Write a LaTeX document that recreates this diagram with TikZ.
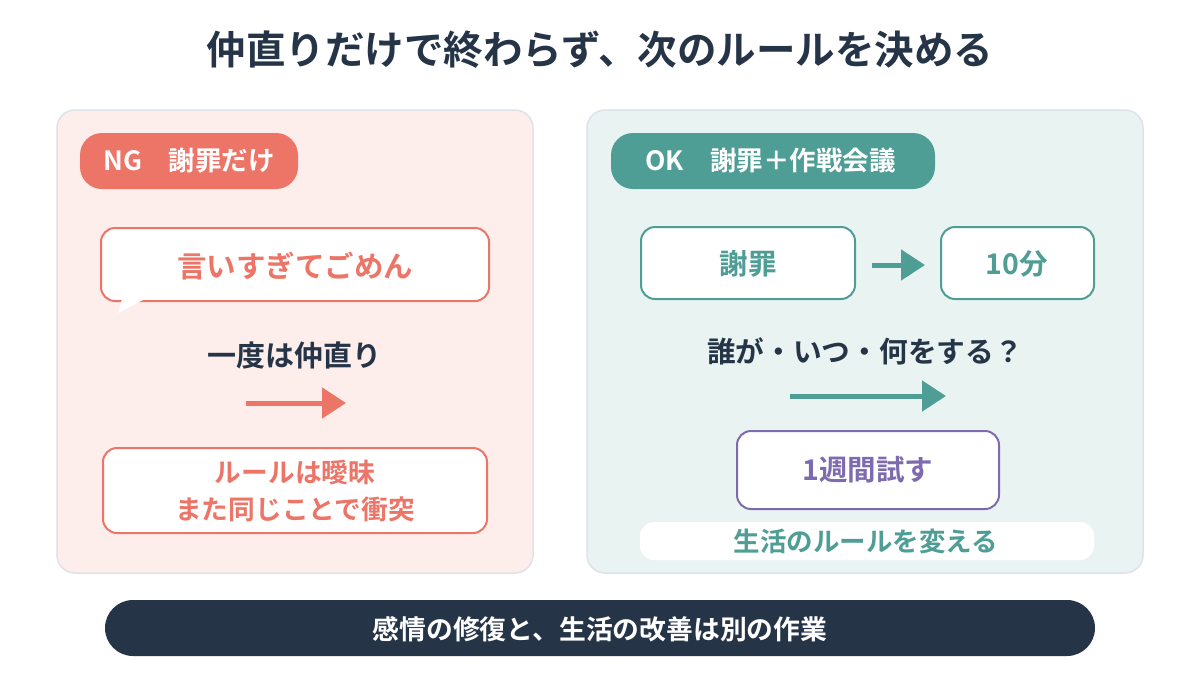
\documentclass[tikz,border=0pt]{standalone}
\usepackage{fontspec}
\setmainfont{Noto Sans CJK JP}[BoldFont={* Bold}]
\usetikzlibrary{arrows.meta}
\definecolor{dark}{HTML}{253447}
\definecolor{sal}{HTML}{EC7567}
\definecolor{teal}{HTML}{4E9E95}
\definecolor{pur}{HTML}{7E6BAF}
\definecolor{pinkbg}{HTML}{FDEEEB}
\definecolor{greenbg}{HTML}{E9F4F2}
\definecolor{edge}{HTML}{DDE3E8}
\begin{document}
\begin{tikzpicture}[x=1pt,y=-1pt,
 panel/.style={draw=edge,line width=1.5pt,rounded corners=18pt},
 box/.style={fill=white,line width=2pt,rounded corners=14pt},
 t/.style={font=\bfseries\fontsize{#1}{#1}\selectfont,inner sep=0pt},
 arr/.style={line width=5pt,-{Triangle[length=24pt,width=30pt]}}]
\useasboundingbox[fill=white] (0,0) rectangle (1200,675);
\node[t=39.5,text=dark] (title) at (600,50) {仲直りだけで終わらず、次のルールを決める};
% left
\draw[panel,fill=pinkbg] (57,110) rectangle (533,573);
\fill[sal,rounded corners=22pt] (80,133) rectangle (298,189);
\node[t=26.5,text=white,anchor=west] (ng) at (103,161) {NG　謝罪だけ};
\draw[box,draw=sal] (101,228) rectangle (489,301);
\fill[white] (118,313) -- (122,299) -- (145,299) -- cycle;
\node[t=29.5,text=sal] (b1) at (295,266) {言いすぎてごめん};
\node[t=29,text=dark] (l1) at (294,355) {一度は仲直り};
\coordinate (a1) at (246,403); \coordinate (a2) at (346,403);
\draw[arr,sal] (a1) -- (a2);
\draw[box,draw=sal] (103,448) rectangle (487,533);
\node[t=26.7,text=sal,align=center] (b2) at (295,491) {ルールは曖昧\\[11pt]また同じことで衝突};
% right
\draw[panel,fill=greenbg] (587,110) rectangle (1143,573);
\fill[teal,rounded corners=22pt] (611,133) rectangle (935,189);
\node[t=26.5,text=white,anchor=west] (ok) at (645,161) {OK　謝罪＋作戦会議};
\draw[box,draw=teal] (641,227) rectangle (855,299);
\node[t=28.5,text=teal] (s) at (748,264) {謝罪};
\draw[box,draw=teal] (941,227) rectangle (1094,299);
\node[t=28.5,text=teal] (m) at (1017,264) {10分};
\coordinate (c1) at (872,265); \coordinate (c2) at (925,265);
\draw[arr,teal] (c1) -- (c2);
\node[t=28.7,text=dark] (q) at (865,351) {誰が・いつ・何をする？};
\coordinate (d1) at (790,396); \coordinate (d2) at (946,396);
\draw[arr,teal] (d1) -- (d2);
\draw[box,draw=pur] (737,431) rectangle (999,509);
\node[t=28.5,text=pur] (w) at (868,470) {1週間試す};
\fill[white,rounded corners=14pt] (640,522) rectangle (1094,560);
\node[t=26.5,text=teal] (r) at (866,541) {生活のルールを変える};
% bottom
\fill[dark,rounded corners=28pt] (105,600) rectangle (1095,656);
\node[t=26.8,text=white] (bt) at (600,629) {感情の修復と、生活の改善は別の作業};
\end{tikzpicture}
\end{document}
